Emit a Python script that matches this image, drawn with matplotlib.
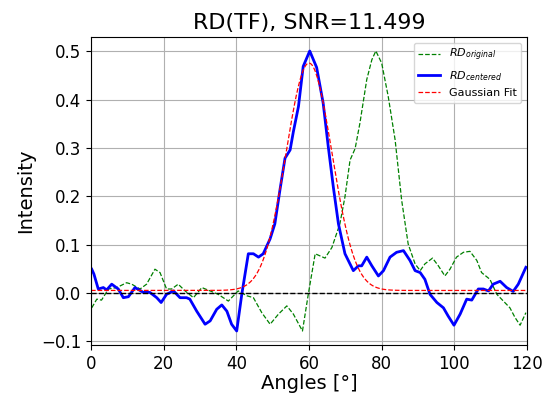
import numpy as np
import matplotlib; matplotlib.use("Agg")
import matplotlib.pyplot as plt

# RD_centered (blue)
ang_c = [0.2, 0.8, 2.0, 3.4, 4.3, 5.7, 7.5, 8.9, 10.3, 12.1, 14.4, 16.2, 18.1, 19.3, 20.8,
         22.7, 24.5, 26.3, 27.2, 29.1, 31.4, 32.8, 34.6, 36.0, 37.4, 38.7, 40.1, 41.5, 43.3,
         44.7, 46.1, 47.4, 49.3, 50.6, 52.0, 53.4, 54.8, 55.7, 57.1, 58.4, 60.2, 62.1, 63.9,
         65.3, 66.7, 68.1, 69.9, 72.2, 73.6, 74.5, 75.9, 77.3, 79.1, 80.5, 82.3, 84.1, 86.0,
         87.8, 89.2, 90.6, 91.9, 93.3, 95.2, 97.0, 98.3, 99.9, 101.6, 103.4, 104.8, 106.6,
         108.0, 109.4, 110.7, 112.6, 114.4, 116.2, 117.6, 119.7]
rd_c = [0.049, 0.039, 0.008, 0.011, 0.006, 0.018, 0.008, -0.010, -0.008, 0.011, 0.001, 0.001,
        -0.010, -0.020, -0.003, 0.004, -0.010, -0.010, -0.013, -0.038, -0.065, -0.058, -0.034,
        -0.025, -0.038, -0.065, -0.079, -0.003, 0.081, 0.081, 0.074, 0.081, 0.112, 0.143,
        0.213, 0.279, 0.296, 0.334, 0.386, 0.469, 0.501, 0.467, 0.393, 0.303, 0.219, 0.143,
        0.081, 0.046, 0.056, 0.056, 0.074, 0.056, 0.035, 0.046, 0.074, 0.084, 0.0875, 0.067,
        0.046, 0.042, 0.028, -0.003, -0.020, -0.031, -0.048, -0.067, -0.044, -0.013, -0.015,
        0.008, 0.008, 0.004, 0.018, 0.024, 0.011, 0.003, 0.018, 0.053]

# RD_original (green)
ang_o = [0.2, 1.6, 2.9, 4.8, 7.1, 9.8, 11.2, 13.5, 15.3, 17.6, 19.0, 20.8, 22.2, 24.0, 25.9,
         28.2, 30.5, 32.8, 35.0, 37.8, 40.5, 42.9, 44.7, 47.0, 49.3, 51.6, 53.9, 55.7, 58.2,
         59.8, 61.7, 64.4, 66.3, 68.5, 69.9, 71.3, 72.7, 74.0, 75.9, 77.3, 78.4, 80.0, 81.8,
         83.7, 85.5, 87.3, 89.2, 90.6, 91.9, 94.0, 95.6, 97.4, 98.8, 100.6, 102.5, 104.3,
         106.2, 107.5, 109.8, 111.7, 113.5, 115.3, 116.7, 118.1, 119.7]
rd_o = [-0.031, -0.013, -0.015, 0.008, 0.011, 0.021, 0.018, 0.008, 0.018, 0.049, 0.042, 0.008,
        0.008, 0.018, 0.004, -0.010, 0.011, 0.004, -0.003, -0.017, 0.004, -0.006, -0.010,
        -0.041, -0.065, -0.044, -0.027, -0.044, -0.079, -0.003, 0.081, 0.072, 0.094, 0.143,
        0.199, 0.275, 0.299, 0.351, 0.442, 0.483, 0.501, 0.476, 0.407, 0.317, 0.192, 0.101,
        0.060, 0.046, 0.060, 0.072, 0.056, 0.035, 0.049, 0.074, 0.084, 0.086, 0.067, 0.042,
        0.028, -0.003, -0.017, -0.031, -0.051, -0.067, -0.041]

# gaussian fit parameters
g_amp, g_mu, g_sigma, g_off = 0.471, 60.0, 6.3, 0.005
snr = 11.499

x = np.linspace(0, 120, 481)
fit = g_amp * np.exp(-(x - g_mu) ** 2 / (2 * g_sigma ** 2)) + g_off

fig, ax = plt.subplots(figsize=(5.48, 3.94), dpi=100)
ax.plot(ang_o, rd_o, "g--", lw=0.9, label=r"$RD_{original}$")
ax.plot(ang_c, rd_c, "b-", lw=2, label=r"$RD_{centered}$")
ax.plot(x, fit, "r--", lw=0.9, label="Gaussian Fit")
ax.axhline(0, color="k", ls="--", lw=1)
ax.set_xlim(0, 120)
ax.set_title(f"RD(TF), SNR={snr}", fontsize=16)
ax.set_xlabel("Angles [°]", fontsize=14, labelpad=1)
ax.set_ylabel("Intensity", fontsize=14)
ax.tick_params(labelsize=12)
ax.grid(True)
ax.legend(loc="upper right", fontsize=8)
fig.subplots_adjust(left=91/548, right=527/548, top=1-37/394, bottom=1-345/394)
fig.savefig("out.png", dpi=100)
